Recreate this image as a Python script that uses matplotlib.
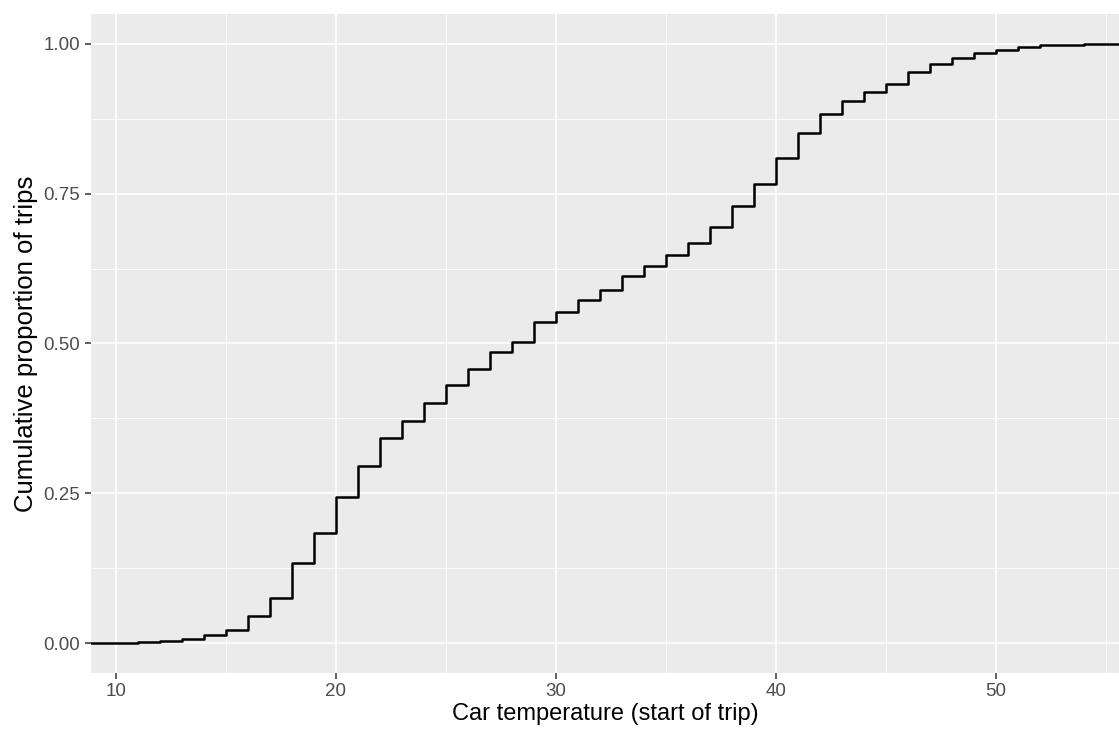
import numpy as np
import matplotlib
matplotlib.use("Agg")
import matplotlib.pyplot as plt

# temperatures where the ecdf jumps
temps = [11, 12, 13, 14, 15, 16, 17, 18, 19, 20,
         21, 22, 23, 24, 25, 26, 27, 28, 29, 30,
         31, 32, 33, 34, 35, 36, 37, 38, 39, 40,
         41, 42, 43, 44, 45, 46, 47, 48, 49, 50,
         51, 52, 53, 54]
# cumulative proportion after each jump
cum_prop = [0.002, 0.003, 0.007, 0.013, 0.022, 0.045, 0.075, 0.133, 0.183, 0.243,
            0.295, 0.342, 0.371, 0.401, 0.431, 0.458, 0.486, 0.503, 0.536, 0.552,
            0.572, 0.590, 0.613, 0.629, 0.648, 0.667, 0.695, 0.729, 0.766, 0.810,
            0.852, 0.883, 0.904, 0.919, 0.933, 0.954, 0.967, 0.976, 0.985, 0.990,
            0.995, 0.998, 0.999, 1.000]

x_ticks = [10, 20, 30, 40, 50]
y_ticks = [0.0, 0.25, 0.5, 0.75, 1.0]
y_labels = ["0.00", "0.25", "0.50", "0.75", "1.00"]

xmin, xmax = 8.86, 55.6
ymin, ymax = -0.05, 1.05

plt.rcParams['font.family'] = ['Liberation Sans', 'DejaVu Sans']

fig = plt.figure(figsize=(11.19, 7.33), dpi=100)
ax = fig.add_axes([90.7 / 1119, 60 / 733, 1 - 90.7 / 1119, (673 - 14) / 733])
ax.set_facecolor('#EBEBEB')
for s in ax.spines.values():
    s.set_visible(False)

# grid like ggplot theme_gray
for v in [15, 25, 35, 45, 55]:
    ax.axvline(v, color='white', lw=0.6, zorder=0.5)
for v in [0.125, 0.375, 0.625, 0.875]:
    ax.axhline(v, color='white', lw=0.6, zorder=0.5)
for v in x_ticks:
    ax.axvline(v, color='white', lw=1.2, zorder=0.6)
for v in y_ticks:
    ax.axhline(v, color='white', lw=1.2, zorder=0.6)

# ecdf padded to the panel edges
xs = np.r_[xmin, temps, xmax]
ys = np.r_[0.0, cum_prop, cum_prop[-1]]
ax.step(xs, ys, where='post', color='black', lw=1.8, zorder=3)

ax.set_xlim(xmin, xmax)
ax.set_ylim(ymin, ymax)
ax.set_xticks(x_ticks)
ax.set_xticklabels([str(t) for t in x_ticks])
ax.set_yticks(y_ticks)
ax.set_yticklabels(y_labels)
ax.tick_params(axis='both', colors='#333333', length=4.5, width=1.1,
               labelsize=13.5, labelcolor='#4D4D4D', pad=3)

ax.set_xlabel('Car temperature (start of trip)', fontsize=17, color='black', labelpad=2)
ax.set_ylabel('Cumulative proportion of trips', fontsize=18.5, color='black', labelpad=4)

fig.savefig('out.png', dpi=100)
